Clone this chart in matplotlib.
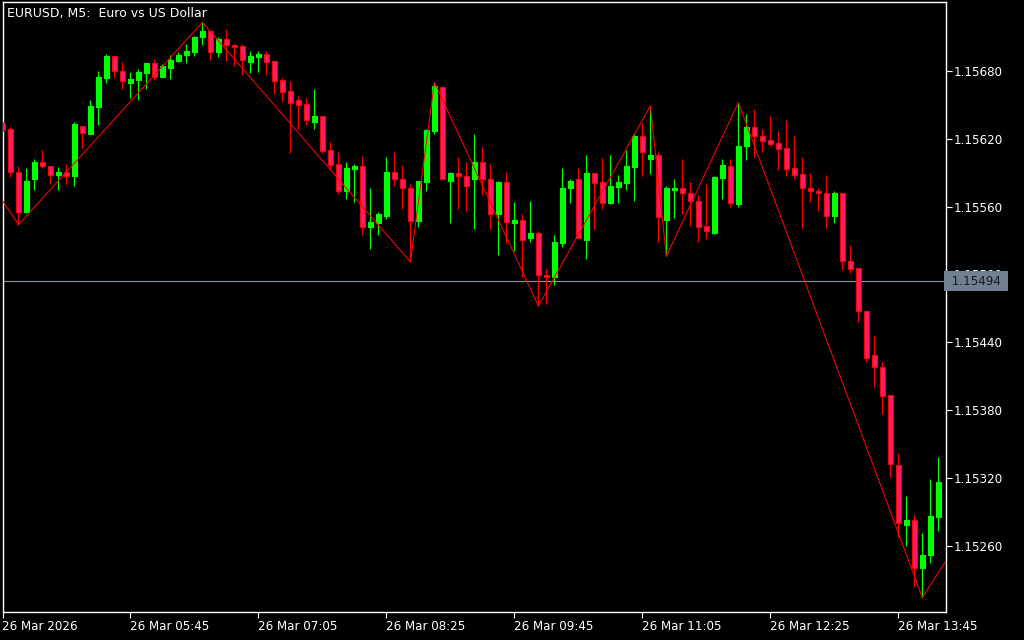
import matplotlib
matplotlib.use("Agg")
import matplotlib.pyplot as plt
import numpy as np

# EURUSD M5 candles, prices in 1e-5 units (115634 -> 1.15634)
opens = [115634, 115629, 115591, 115555, 115584, 115599, 115596, 115588, 115591, 115587,
         115631, 115624, 115648, 115674, 115693, 115680, 115669, 115672, 115678, 115687,
         115675, 115683, 115689, 115694, 115697, 115710, 115715, 115697, 115708, 115703,
         115702, 115688, 115692, 115695, 115689, 115672, 115662, 115654, 115651, 115635,
         115640, 115610, 115598, 115574, 115593, 115596, 115542, 115545, 115552, 115591,
         115584, 115576, 115547, 115582, 115627, 115666, 115583, 115590, 115587, 115584,
         115599, 115584, 115553, 115582, 115545, 115548, 115532, 115537, 115499, 115498,
         115528, 115576, 115584, 115530, 115590, 115582, 115563, 115577, 115581, 115595,
         115622, 115602, 115606, 115548, 115575, 115576, 115572, 115565, 115543, 115537,
         115585, 115596, 115562, 115614, 115630, 115622, 115619, 115616, 115612, 115594,
         115589, 115576, 115574, 115572, 115552, 115572, 115512, 115506, 115468, 115429,
         115418, 115393, 115331, 115278, 115283, 115240, 115252, 115285]
highs = [115635, 115630, 115596, 115594, 115602, 115610, 115596, 115595, 115598, 115635,
         115631, 115654, 115680, 115695, 115693, 115688, 115679, 115682, 115687, 115691,
         115686, 115694, 115697, 115704, 115711, 115723, 115715, 115710, 115717, 115704,
         115704, 115698, 115698, 115698, 115689, 115674, 115671, 115658, 115656, 115664,
         115640, 115617, 115608, 115599, 115598, 115605, 115576, 115555, 115604, 115608,
         115597, 115580, 115583, 115629, 115670, 115666, 115591, 115604, 115599, 115624,
         115613, 115598, 115583, 115591, 115564, 115553, 115565, 115538, 115505, 115535,
         115594, 115584, 115594, 115606, 115590, 115603, 115606, 115588, 115610, 115625,
         115634, 115649, 115608, 115578, 115584, 115602, 115582, 115570, 115580, 115587,
         115602, 115602, 115652, 115642, 115646, 115629, 115640, 115627, 115637, 115622,
         115604, 115590, 115576, 115588, 115574, 115572, 115526, 115506, 115468, 115445,
         115422, 115393, 115342, 115304, 115287, 115271, 115319, 115338]
lows = [115627, 115586, 115544, 115555, 115575, 115594, 115580, 115575, 115580, 115578,
        115612, 115624, 115632, 115669, 115675, 115664, 115656, 115654, 115664, 115672,
        115675, 115673, 115688, 115687, 115693, 115703, 115690, 115692, 115689, 115684,
        115676, 115678, 115679, 115676, 115660, 115653, 115607, 115629, 115632, 115629,
        115607, 115592, 115571, 115567, 115564, 115535, 115522, 115535, 115549, 115578,
        115558, 115511, 115542, 115574, 115624, 115584, 115545, 115558, 115556, 115540,
        115570, 115540, 115517, 115528, 115521, 115498, 115529, 115472, 115474, 115491,
        115524, 115563, 115532, 115514, 115540, 115558, 115562, 115563, 115575, 115565,
        115587, 115589, 115529, 115516, 115550, 115553, 115543, 115529, 115531, 115536,
        115567, 115560, 115560, 115601, 115604, 115608, 115614, 115592, 115587, 115584,
        115541, 115564, 115556, 115541, 115545, 115504, 115501, 115458, 115422, 115400,
        115376, 115321, 115268, 115260, 115223, 115214, 115245, 115273]
closes = [115628, 115591, 115555, 115583, 115599, 115596, 115588, 115591, 115587, 115633,
          115625, 115649, 115675, 115693, 115680, 115671, 115673, 115679, 115687, 115675,
          115684, 115690, 115694, 115698, 115710, 115715, 115697, 115708, 115703, 115701,
          115690, 115693, 115695, 115688, 115671, 115661, 115652, 115650, 115637, 115640,
          115609, 115597, 115574, 115594, 115596, 115542, 115546, 115553, 115591, 115584,
          115576, 115547, 115583, 115628, 115667, 115584, 115590, 115587, 115578, 115599,
          115584, 115553, 115582, 115546, 115548, 115530, 115537, 115499, 115498, 115529,
          115576, 115583, 115532, 115590, 115581, 115563, 115578, 115582, 115596, 115622,
          115608, 115606, 115551, 115576, 115576, 115572, 115565, 115542, 115538, 115586,
          115597, 115563, 115614, 115630, 115622, 115618, 115615, 115611, 115593, 115588,
          115576, 115574, 115572, 115552, 115572, 115512, 115505, 115468, 115426, 115418,
          115392, 115332, 115280, 115283, 115240, 115252, 115286, 115316]

# zigzag vertices (bar index, price)
zz_bars = [-2, 2, 25, 51, 54, 67, 81, 83, 92, 115, 118]
zz_prices = [115586, 115544, 115723, 115511, 115670, 115472, 115649, 115516, 115652, 115214, 115247]

hline_price = 1.15494
price_ticks = [1.15260, 1.15320, 1.15380, 1.15440, 1.15500, 1.15560, 1.15620, 1.15680]
time_tick_bars = [0, 16, 32, 48, 64, 80, 96, 112]
time_labels = ["26 Mar 2026", "26 Mar 05:45", "26 Mar 07:05", "26 Mar 08:25",
               "26 Mar 09:45", "26 Mar 11:05", "26 Mar 12:25", "26 Mar 13:45"]
title = "EURUSD, M5:  Euro vs US Dollar"

o = np.array(opens) / 1e5
h = np.array(highs) / 1e5
l = np.array(lows) / 1e5
c = np.array(closes) / 1e5
x = np.arange(len(o))

bull_col = "#00ff00"
bear_fill = "#ff1a6a"
bear_edge = "#ff0000"

fig = plt.figure(figsize=(10.24, 6.4), dpi=100, facecolor="black")
ax = fig.add_axes([2.5 / 1024, 28 / 640, 943.5 / 1024, 610 / 640], facecolor="black")

up = c >= o
wick_cols = [bull_col if u else bear_edge for u in up]
ax.vlines(x, l, h, colors=wick_cols, linewidth=0.9, zorder=3)

body_bottom = np.minimum(o, c)
body_h = np.abs(c - o)
ax.bar(x[up], body_h[up], bottom=body_bottom[up], width=0.62,
       color=bull_col, edgecolor=bull_col, linewidth=0.8, zorder=4)
ax.bar(x[~up], body_h[~up], bottom=body_bottom[~up], width=0.62,
       color=bear_fill, edgecolor=bear_edge, linewidth=0.8, zorder=4)

ax.plot(zz_bars, np.array(zz_prices) / 1e5, color="#ff0000", linewidth=0.75, zorder=5)
ax.axhline(hline_price, color="#8a98a8", linewidth=0.8, zorder=2)

ax.set_xlim(0.025, 117.96)
ax.set_ylim(1.152012, 1.157410)

for s in ax.spines.values():
    s.set_color("white")
    s.set_linewidth(1.0)

ax.yaxis.tick_right()
ax.set_yticks(price_ticks)
ax.set_yticklabels(["%.5f" % p for p in price_ticks])
ax.set_xticks(time_tick_bars)
ax.set_xticklabels(time_labels, ha="left")
ax.tick_params(axis="both", colors="white", labelcolor="white", labelsize=8.6,
               length=4, width=0.8, direction="out", pad=1.5)
for lab in ax.get_xticklabels():
    lab.set_horizontalalignment("left")

ax.text(1.002, hline_price, " %.5f " % hline_price, transform=ax.get_yaxis_transform(),
        ha="left", va="center", fontsize=8.6, color="#1a1a1a", zorder=10, clip_on=False,
        bbox=dict(boxstyle="square,pad=0.3", facecolor="#708090", edgecolor="none"))

ax.text(0.005, 0.992, title, transform=ax.transAxes, ha="left", va="top",
        fontsize=9, color="white", zorder=10)

fig.savefig("out.png", dpi=100, facecolor="black")
